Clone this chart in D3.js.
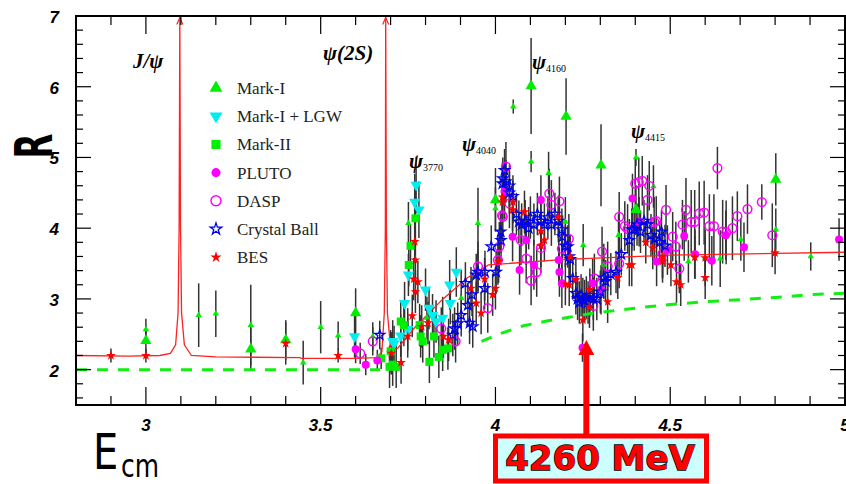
<!DOCTYPE html>
<html>
<head>
<meta charset="utf-8">
<script src="https://cdn.jsdelivr.net/npm/d3@7"></script>
<style>
  body { margin: 0; background: #fff; }
  svg { display: block; }
</style>
</head>
<body>
<svg id="chart" width="846" height="484"></svg>
<script>
// each point is [E_cm (GeV), R, error]
const markI = [
  [3.0, 2.41, 0.2], [3.3, 2.29, 0.3], [3.4, 2.42, 0.28], [3.6, 2.80, 0.35],
  [4.0, 4.40, 0.45], [4.102, 6.01, 0.68], [4.202, 5.58, 0.54], [4.302, 4.89, 0.58],
  [4.402, 4.26, 0.35], [4.802, 4.69, 0.37]
];
const markIExtra = [
  [3.0, 2.57, 0.15], [3.151, 2.77, 0.45], [3.2, 2.79, 0.33], [3.3, 2.63, 0.57],
  [3.45, 2.10, 0.31], [3.5, 2.60, 0.37], [3.55, 2.48, 0.2], [3.649, 2.47, 0.2],
  [3.751, 4.07, 0.3], [3.804, 2.73, 0.3], [3.902, 3.01, 0.4], [3.95, 4.07, 0.5],
  [4.0, 4.28, 0.3], [4.051, 5.72, 0.1], [4.102, 4.94, 0.15], [4.152, 4.78, 0.3],
  [4.2, 4.09, 0.35], [4.251, 3.76, 0.3], [4.31, 3.48, 0.3], [4.352, 3.90, 0.3],
  [4.402, 5.00, 0.12], [4.452, 4.59, 0.3], [4.552, 3.53, 0.3], [4.6, 3.58, 0.4],
  [4.643, 3.57, 0.4], [4.702, 3.84, 0.3], [4.802, 3.98, 0.3], [4.902, 3.60, 0.2]
];
const markILGW = [
  [3.597, 2.47, 0.3], [3.706, 2.40, 0.3], [3.71, 2.37, 0.25], [3.729, 2.48, 0.3],
  [3.74, 2.94, 0.3], [3.749, 2.57, 0.3], [3.751, 3.34, 0.3], [3.769, 4.37, 0.4],
  [3.773, 4.61, 0.4], [3.781, 4.26, 0.4], [3.80, 3.13, 0.3], [3.81, 2.87, 0.3],
  [3.82, 2.77, 0.3], [3.83, 2.68, 0.3], [3.849, 2.73, 0.3], [3.869, 3.20, 0.35],
  [3.871, 2.94, 0.3], [3.888, 3.38, 0.35]
];
const markII = [
  [3.673, 2.16, 0.15], [3.697, 2.04, 0.3], [3.70, 2.26, 0.3], [3.706, 2.07, 0.3],
  [3.716, 2.04, 0.3], [3.729, 2.68, 0.3], [3.738, 2.63, 0.3], [3.752, 3.48, 0.3],
  [3.757, 3.75, 0.3], [3.771, 4.14, 0.4], [3.783, 2.63, 0.3], [3.786, 2.47, 0.3],
  [3.792, 2.40, 0.3], [3.811, 2.11, 0.3], [3.824, 2.47, 0.3], [3.838, 2.18, 0.3],
  [3.849, 2.28, 0.3], [3.864, 2.30, 0.3]
];
const pluto = [
  [3.6, 2.29, 0.2], [3.629, 2.07, 0.15], [3.662, 2.13, 0.15], [4.026, 4.52, 0.4],
  [4.049, 3.88, 0.35], [4.069, 3.41, 0.35], [4.088, 3.83, 0.35], [4.11, 3.48, 0.35],
  [4.13, 4.40, 0.35], [4.181, 3.55, 0.35], [4.183, 3.38, 0.35], [4.19, 3.22, 0.35],
  [4.249, 2.31, 0.2], [4.278, 3.22, 0.35], [4.302, 3.13, 0.35], [4.392, 4.42, 0.35],
  [4.411, 4.09, 0.35], [4.461, 3.53, 0.35], [4.492, 3.69, 0.35], [4.54, 3.89, 0.35],
  [4.571, 3.63, 0.35], [4.619, 3.54, 0.35], [4.659, 3.90, 0.35], [4.711, 3.73, 0.35],
  [4.983, 3.84, 0.3]
];
const dasp = [
  [3.613, 2.23, 0.15], [3.649, 2.40, 0.2], [3.845, 2.58, 0.3], [3.886, 2.40, 0.3],
  [3.95, 3.46, 0.35], [3.978, 2.87, 0.35], [4.007, 3.55, 0.35], [4.011, 3.74, 0.35],
  [4.019, 4.18, 0.35], [4.021, 4.16, 0.35], [4.03, 4.87, 0.35], [4.04, 4.35, 0.35],
  [4.073, 3.83, 0.35], [4.088, 3.57, 0.35], [4.102, 3.26, 0.35], [4.118, 3.38, 0.35],
  [4.13, 3.72, 0.35], [4.154, 4.49, 0.35], [4.16, 4.33, 0.35], [4.183, 4.38, 0.35],
  [4.19, 3.71, 0.35], [4.21, 3.85, 0.35], [4.28, 2.90, 0.35], [4.283, 3.29, 0.35],
  [4.305, 3.67, 0.35], [4.321, 3.46, 0.35], [4.354, 3.50, 0.35], [4.354, 4.16, 0.35],
  [4.37, 4.03, 0.35], [4.378, 3.99, 0.35], [4.40, 4.63, 0.35], [4.41, 4.65, 0.35],
  [4.42, 4.67, 0.35], [4.435, 4.40, 0.35], [4.44, 4.60, 0.35], [4.454, 4.09, 0.35],
  [4.46, 4.10, 0.35], [4.478, 3.64, 0.35], [4.488, 4.26, 0.35], [4.507, 3.88, 0.35],
  [4.516, 3.74, 0.35], [4.526, 3.43, 0.35], [4.535, 4.05, 0.35], [4.545, 4.26, 0.45],
  [4.56, 4.09, 0.45], [4.57, 4.09, 0.45], [4.583, 4.21, 0.45], [4.597, 4.22, 0.45],
  [4.612, 4.03, 0.45], [4.625, 4.03, 0.45], [4.635, 4.85, 0.3], [4.65, 3.95, 0.45],
  [4.66, 3.94, 0.45], [4.678, 4.00, 0.45], [4.692, 4.17, 0.35], [4.721, 4.27, 0.35],
  [4.762, 4.37, 0.25], [4.792, 3.90, 0.45]
];
const crystalBall = [
  [3.669, 2.49, 0.2], [3.878, 2.49, 0.3], [3.883, 2.58, 0.3], [3.892, 2.65, 0.3],
  [3.902, 2.77, 0.3], [3.914, 3.22, 0.3], [3.921, 2.91, 0.3], [3.926, 2.66, 0.3],
  [3.933, 3.06, 0.3], [3.935, 2.61, 0.3], [3.945, 3.34, 0.3], [3.95, 3.38, 0.3],
  [3.969, 3.15, 0.3], [3.97, 3.38, 0.3], [3.988, 3.74, 0.3], [4.002, 3.38, 0.3],
  [4.015, 3.95, 0.3], [4.016, 3.83, 0.3], [4.02, 4.63, 0.3], [4.021, 4.70, 0.3],
  [4.026, 4.82, 0.3], [4.03, 4.66, 0.3], [4.04, 4.50, 0.3], [4.04, 4.60, 0.3],
  [4.05, 4.45, 0.3], [4.06, 4.20, 0.3], [4.067, 4.09, 0.3], [4.075, 4.05, 0.3],
  [4.085, 4.10, 0.3], [4.095, 4.00, 0.3], [4.10, 4.15, 0.3], [4.11, 4.05, 0.3],
  [4.12, 4.20, 0.3], [4.13, 4.10, 0.3], [4.14, 4.05, 0.3], [4.15, 4.15, 0.3],
  [4.16, 4.05, 0.3], [4.17, 4.20, 0.3], [4.18, 4.10, 0.3], [4.19, 3.98, 0.3],
  [4.192, 3.88, 0.3], [4.20, 3.75, 0.3], [4.207, 3.74, 0.3], [4.211, 3.60, 0.3],
  [4.214, 3.56, 0.3], [4.221, 3.29, 0.3], [4.23, 3.08, 0.3], [4.235, 3.00, 0.3],
  [4.24, 2.95, 0.3], [4.245, 3.05, 0.3], [4.25, 3.00, 0.3], [4.255, 2.97, 0.3],
  [4.26, 3.02, 0.3], [4.265, 2.95, 0.3], [4.27, 3.05, 0.3], [4.28, 3.00, 0.3],
  [4.29, 3.00, 0.3], [4.30, 3.10, 0.3], [4.31, 3.30, 0.3], [4.315, 3.25, 0.3],
  [4.33, 3.35, 0.3], [4.345, 3.38, 0.3], [4.36, 3.63, 0.3], [4.383, 3.83, 0.3],
  [4.39, 3.98, 0.3], [4.397, 3.98, 0.3], [4.405, 4.05, 0.3], [4.415, 3.95, 0.3],
  [4.425, 4.10, 0.3], [4.435, 4.05, 0.3], [4.445, 3.90, 0.3], [4.455, 3.85, 0.3],
  [4.47, 3.80, 0.3], [4.475, 3.95, 0.3], [4.485, 3.75, 0.3]
];
const bes = [
  [2.9, 2.20, 0.1], [3.0, 2.20, 0.1], [3.4, 2.37, 0.3], [3.55, 2.20, 0.1],
  [3.702, 2.23, 0.3], [3.73, 2.10, 0.3], [3.749, 2.47, 0.3], [3.762, 2.76, 0.3],
  [3.766, 3.28, 0.3], [3.769, 3.81, 0.3], [3.771, 3.55, 0.3], [3.771, 3.10, 0.3],
  [3.778, 3.24, 0.3], [3.789, 2.61, 0.3], [3.807, 2.66, 0.3], [3.851, 2.47, 0.3],
  [3.866, 2.42, 0.3], [3.93, 3.15, 0.3], [3.945, 2.94, 0.3], [3.959, 2.80, 0.3],
  [3.969, 3.28, 0.3], [3.992, 3.06, 0.3], [4.0, 3.15, 0.3], [4.009, 3.53, 0.3],
  [4.02, 4.37, 0.3], [4.02, 4.44, 0.3], [4.049, 4.26, 0.3], [4.05, 4.37, 0.3],
  [4.083, 4.23, 0.3], [4.13, 3.96, 0.3], [4.13, 3.75, 0.3], [4.14, 3.83, 0.3],
  [4.18, 4.16, 0.3], [4.20, 3.21, 0.3], [4.211, 3.20, 0.3], [4.214, 3.60, 0.3],
  [4.23, 3.27, 0.3], [4.25, 2.70, 0.3], [4.269, 2.89, 0.3], [4.27, 3.13, 0.3],
  [4.321, 2.96, 0.3], [4.35, 3.30, 0.3], [4.383, 3.48, 0.3], [4.39, 3.48, 0.3],
  [4.43, 3.80, 0.3], [4.45, 3.72, 0.3], [4.478, 3.53, 0.3], [4.478, 3.60, 0.3],
  [4.502, 3.48, 0.3], [4.518, 3.24, 0.3], [4.53, 3.20, 0.3], [4.57, 3.59, 0.3],
  [4.60, 3.30, 0.3], [4.60, 3.58, 0.3], [4.80, 3.65, 0.3]
];

// red theory curve (E, R) and green dashed continuum, null = gap
const theoryCurve = [
  [2.8, 2.20], [2.95, 2.19], [3.04, 2.20], [3.07, 2.23], [3.085, 2.35], [3.092, 2.8],
  [3.095, 4.0], [3.097, 7.0], [3.099, 4.0], [3.102, 2.8], [3.11, 2.35], [3.13, 2.20],
  [3.2, 2.18], [3.44, 2.17], [3.445, 2.16], [3.6, 2.16], [3.66, 2.17], [3.675, 2.25],
  [3.682, 2.8], [3.685, 4.0], [3.686, 7.0], [3.688, 4.0], [3.691, 2.8], [3.70, 2.30],
  [3.72, 2.30], [3.77, 2.60], [3.85, 3.00], [3.92, 3.30], [3.98, 3.48], [4.2, 3.56],
  [4.5, 3.62], [5.0, 3.66]
];
const continuum = [
  [2.8, 2.0], [3.67, 2.0], null, [3.96, 2.40], [4.02, 2.52], [4.08, 2.62],
  [4.15, 2.69], [4.21, 2.74], [4.28, 2.80], [4.35, 2.84], [4.42, 2.88], [4.5, 2.92],
  [4.6, 2.96], [4.7, 2.99], [4.8, 3.02], [4.9, 3.06], [5.0, 3.08]
];
const peaks = [3.097, 3.686];

const legendLabels = ["Mark-I", "Mark-I + LGW", "Mark-II", "PLUTO", "DASP", "Crystal Ball", "BES"];
const xTickLabels = [3, 3.5, 4, 4.5, 5];
const yTickLabels = [2, 3, 4, 5, 6, 7];

const svg = d3.select("#chart");
const plot = { left: 76, right: 845, top: 16, bottom: 405 };

const x = d3.scaleLinear().domain([2.8, 5.0]).range([plot.left, plot.right]);
const y = d3.scaleLinear().domain([1.5, 7]).range([plot.bottom, plot.top]);

svg.append("rect").attr("width", 846).attr("height", 484).attr("fill", "#fff");

svg.append("defs").append("clipPath").attr("id", "plotClip")
  .append("rect")
  .attr("x", plot.left).attr("y", plot.top)
  .attr("width", plot.right - plot.left).attr("height", plot.bottom - plot.top);

// marker styles per experiment
const series = [
  { data: markIExtra, type: d3.symbolTriangle, size: 18, fill: "#00ee00", stroke: "none" },
  { data: markI, type: d3.symbolTriangle, size: 55, fill: "#00ee00", stroke: "none" },
  { data: markILGW, type: d3.symbolTriangle, size: 55, fill: "#00eeee", stroke: "none", rotate: 180 },
  { data: markII, type: d3.symbolSquare, size: 64, fill: "#00ee00", stroke: "none" },
  { data: pluto, type: d3.symbolCircle, size: 50, fill: "#ff00ff", stroke: "none" },
  { data: dasp, type: d3.symbolCircle, size: 60, fill: "none", stroke: "#ff00ff", width: 1.5 },
  { data: crystalBall, type: d3.symbolStar, size: 32, fill: "none", stroke: "#0000ee", width: 1.3 },
  { data: bes, type: d3.symbolStar, size: 30, fill: "#ff0000", stroke: "none" }
];

const dataLayer = svg.append("g").attr("clip-path", "url(#plotClip)");

// error bars first
series.forEach(s => {
  dataLayer.append("g").selectAll("line")
    .data(s.data)
    .enter()
    .append("line")
    .attr("x1", d => x(d[0])).attr("x2", d => x(d[0]))
    .attr("y1", d => y(d[1] - d[2])).attr("y2", d => y(d[1] + d[2]))
    .attr("stroke", "#333")
    .attr("stroke-width", 1.5);
});

// curves
dataLayer.append("path")
  .datum(continuum)
  .attr("d", d3.line().defined(d => d).x(d => x(d[0])).y(d => y(d[1])))
  .attr("fill", "none")
  .attr("stroke", "#11ee11")
  .attr("stroke-width", 3)
  .attr("stroke-dasharray", "11,10");

dataLayer.append("path")
  .datum(theoryCurve)
  .attr("d", d3.line().x(d => x(d[0])).y(d => y(d[1])))
  .attr("fill", "none")
  .attr("stroke", "#ff2222")
  .attr("stroke-width", 1.3);

//little arrow heads where the resonance peaks leave the frame
svg.append("g").selectAll("path")
  .data(peaks)
  .enter()
  .append("path")
  .attr("d", d => `M${x(d) - 3},${y(6.88)} L${x(d)},${y(6.98)} L${x(d) + 3},${y(6.88)}`)
  .attr("fill", "none")
  .attr("stroke", "#ff2222")
  .attr("stroke-width", 1.2);

// markers
series.forEach(s => {
  dataLayer.append("g").selectAll("path")
    .data(s.data)
    .enter()
    .append("path")
    .attr("d", d3.symbol().type(s.type).size(s.size))
    .attr("transform", d => `translate(${x(d[0])},${y(d[1])})${s.rotate ? ` rotate(${s.rotate})` : ""}`)
    .attr("fill", s.fill)
    .attr("stroke", s.stroke)
    .attr("stroke-width", s.width || 0);
});

// frame and ticks
const frame = svg.append("g");
frame.append("rect")
  .attr("x", plot.left).attr("y", plot.top)
  .attr("width", plot.right - plot.left).attr("height", plot.bottom - plot.top)
  .attr("fill", "none").attr("stroke", "#000").attr("stroke-width", 2);

const xTicks = d3.range(29, 50).map(v => v / 10);
const isHalf = v => Math.abs(v * 2 - Math.round(v * 2)) < 1e-6;
xTicks.forEach(v => {
  const len = isHalf(v) ? 18 : 9;
  frame.append("line").attr("x1", x(v)).attr("x2", x(v))
    .attr("y1", plot.bottom).attr("y2", plot.bottom - len)
    .attr("stroke", "#000").attr("stroke-width", 1.2);
  frame.append("line").attr("x1", x(v)).attr("x2", x(v))
    .attr("y1", plot.top).attr("y2", plot.top + len)
    .attr("stroke", "#000").attr("stroke-width", 1.2);
});

const yTicks = d3.range(8, 35).map(v => v / 5);
const isInt = v => Math.abs(v - Math.round(v)) < 1e-6;
yTicks.forEach(v => {
  const len = isInt(v) ? 15 : 7;
  frame.append("line").attr("x1", plot.left).attr("x2", plot.left + len)
    .attr("y1", y(v)).attr("y2", y(v))
    .attr("stroke", "#000").attr("stroke-width", 1.2);
  frame.append("line").attr("x1", plot.right).attr("x2", plot.right - len)
    .attr("y1", y(v)).attr("y2", y(v))
    .attr("stroke", "#000").attr("stroke-width", 1.2);
});

const tickFont = "'Liberation Sans', Arial, sans-serif";
svg.append("g").selectAll("text")
  .data(xTickLabels)
  .enter()
  .append("text")
  .attr("x", d => x(d))
  .attr("y", 431)
  .attr("text-anchor", "middle")
  .style("font-family", tickFont)
  .style("font-size", "17px")
  .style("font-weight", "bold")
  .style("font-style", "italic")
  .text(d => d);

svg.append("g").selectAll("text")
  .data(yTickLabels)
  .enter()
  .append("text")
  .attr("x", 59)
  .attr("y", d => y(d) + 7)
  .attr("text-anchor", "end")
  .style("font-family", tickFont)
  .style("font-size", "17px")
  .style("font-weight", "bold")
  .style("font-style", "italic")
  .text(d => d);

// axis titles
svg.append("text")
  .attr("transform", "translate(52,146) rotate(-90) scale(0.62,1)")
  .attr("text-anchor", "middle")
  .style("font-family", "'DejaVu Sans', sans-serif")
  .style("font-size", "52px")
  .style("font-weight", "bold")
  .text("R");

svg.append("text")
  .attr("transform", "translate(93,469) scale(0.8,1)")
  .style("font-family", "'DejaVu Sans', sans-serif")
  .style("font-size", "50px")
  .text("E");
svg.append("text")
  .attr("transform", "translate(121,477) scale(0.78,1)")
  .style("font-family", "'DejaVu Sans', sans-serif")
  .style("font-size", "32px")
  .text("cm");

// legend
const legendSeries = series.slice(1);
const legend = svg.append("g");
legendLabels.forEach((label, i) => {
  const s = legendSeries[i];
  const ly = 88 + i * 28.2;
  legend.append("path")
    .attr("d", d3.symbol().type(s.type).size(s.size * 1.3))
    .attr("transform", `translate(216,${ly})${s.rotate ? ` rotate(${s.rotate})` : ""}`)
    .attr("fill", s.fill)
    .attr("stroke", s.stroke)
    .attr("stroke-width", s.width || 0);
  legend.append("text")
    .attr("x", 237)
    .attr("y", ly + 6)
    .style("font-family", "'Liberation Serif', 'Times New Roman', serif")
    .style("font-size", "17px")
    .style("fill", "#222")
    .text(label);
});

// resonance labels
const serif = "'Liberation Serif', 'Times New Roman', serif";
function resonance(px, py, main, sub) {
  const t = svg.append("text")
    .attr("x", px).attr("y", py)
    .style("font-family", serif)
    .style("font-size", "21px")
    .style("font-weight", "bold")
    .style("font-style", "italic");
  t.append("tspan").text(main);
  if (sub) {
    t.append("tspan").attr("dy", 3).style("font-size", "10px")
      .style("font-weight", "normal").style("font-style", "normal").text(sub);
  }
}
resonance(133, 68, "J/ψ");
resonance(323, 60, "ψ(2S)");
resonance(409, 168, "ψ", "3770");
resonance(462, 151, "ψ", "4040");
resonance(532, 69, "ψ", "4160");
resonance(631, 138, "ψ", "4415");

// 4260 MeV callout
svg.append("rect")
  .attr("x", 495.5).attr("y", 436)
  .attr("width", 211).attr("height", 45)
  .attr("fill", "#ccffff")
  .attr("stroke", "#ff0000")
  .attr("stroke-width", 5);

svg.append("rect")
  .attr("x", x(4.26) - 3).attr("y", 354)
  .attr("width", 6).attr("height", 80)
  .attr("fill", "#ff0000");
svg.append("path")
  .attr("d", `M${x(4.26) - 8},355 L${x(4.26)},340 L${x(4.26) + 8},355 Z`)
  .attr("fill", "#ff0000");

svg.append("text")
  .attr("x", 600).attr("y", 470)
  .attr("text-anchor", "middle")
  .style("font-family", "'DejaVu Sans', sans-serif")
  .style("font-size", "34px")
  .style("font-weight", "bold")
  .style("fill", "#ff0000")
  .style("stroke", "#000")
  .style("stroke-width", 1.3)
  .style("paint-order", "stroke")
  .text("4260 MeV");
</script>
</body>
</html>
